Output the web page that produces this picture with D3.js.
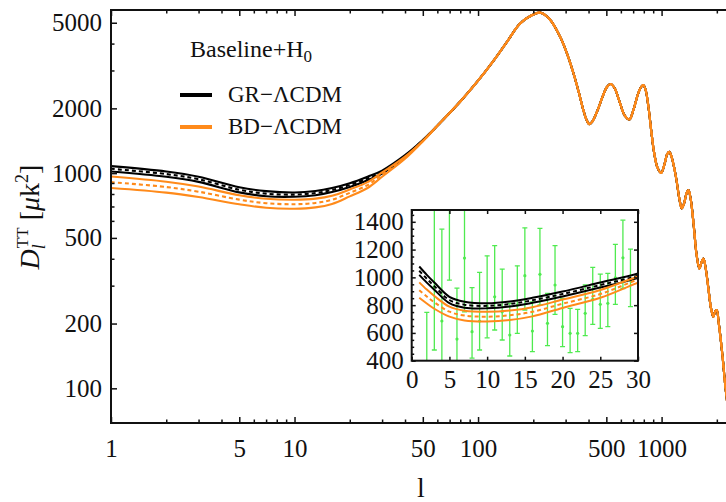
<!DOCTYPE html>
<html>
<head>
<meta charset="utf-8">
<script src="https://cdn.jsdelivr.net/npm/d3@7/dist/d3.min.js"></script>
<style>
body { margin: 0; background: #fff; }
svg text { font-family: "Liberation Serif", "Times New Roman", serif; fill: #111; }
</style>
</head>
<body>
<script>
// low multipoles, three lines per model (upper / mean / lower)
var lowL  = [1, 2, 3, 5, 7, 10, 13, 16, 20, 25, 30, 40, 50];
var grMid = [1048, 990, 937, 837, 803, 795, 808, 835, 880, 945, 1012, 1202, 1421];
var grHi  = [1078, 1018, 963, 860, 825, 813, 826, 853, 898, 963, 1028, 1212, 1425];
var grLo  = [1018, 962, 911, 814, 781, 777, 790, 817, 862, 927, 996, 1192, 1417];
var bdMid = [908, 862, 820, 753, 725, 717, 727, 752, 810, 880, 985, 1180, 1410];
var bdHi  = [964, 912, 866, 789, 760, 752, 761, 785, 840, 909, 1007, 1194, 1416];
var bdLo  = [853, 812, 774, 717, 690, 683, 693, 719, 780, 853, 962, 1166, 1404];

// acoustic peaks, both models on top of each other
var hiL = [60, 80, 100, 121, 145, 169, 195, 218, 245, 280, 305, 331, 355, 375, 390, 404, 420, 450, 480, 505,
           528, 555, 590, 630, 668, 700, 740, 770, 795, 820, 850, 880, 910, 950, 994, 1040, 1070, 1102, 1140, 1200,
           1250, 1288, 1330, 1370, 1400, 1440, 1500, 1550, 1607, 1650, 1690, 1740, 1800, 1860, 1915, 1960, 1997, 2050, 2150, 2218,
           2300, 2400];
var hiD = [1660, 2152, 2690, 3317, 4122, 4952, 5400, 5570, 5200, 4300, 3600, 2910, 2350, 1960, 1770, 1690, 1740, 1980, 2300, 2520,
           2594, 2480, 2150, 1850, 1777, 1950, 2300, 2500, 2567, 2420, 2000, 1550, 1250, 1060, 1003, 1110, 1220, 1256, 1170, 950,
           760, 685, 730, 810, 834, 760, 560, 420, 360, 385, 401, 360, 290, 235, 215, 228, 231, 200, 140, 105,
           80, 60];

// data points in the inset
var errL  = [2, 3, 4, 5, 6, 7, 8, 9, 10, 11, 12, 13, 14, 15, 16, 17, 18, 19, 20, 21, 22, 23, 24, 25, 26, 27, 28, 29];
var errD  = [226, 932, 686, 1500, 556, 1139, 609, 686, 793, 860, 752, 585, 800, 1012, 614, 1022, 669, 945, 645, 597, 597, 741, 842, 806, 813, 997, 1141, 980];
var errUp = [748, 1900, 1347, 2300, 923, 1600, 926, 1036, 1155, 1228, 1060, 813, 1083, 1357, 824, 1352, 885, 1228, 849, 777, 770, 945, 1072, 1024, 1029, 1237, 1412, 1204];
var errDn = [50, 477, 300, 980, 300, 752, 419, 477, 565, 621, 549, 434, 597, 765, 465, 801, 508, 734, 501, 458, 465, 580, 662, 633, 645, 806, 920, 789];

var xMajor = [1, 5, 10, 50, 100, 500, 1000];
var xMinor = [2, 3, 4, 6, 7, 8, 9, 20, 30, 40, 60, 70, 80, 90, 200, 300, 400, 600, 700, 800, 900, 2000];
var yMajor = [100, 200, 500, 1000, 2000, 5000];
var yMinor = [300, 400, 600, 700, 800, 900, 3000, 4000];
var inXTicks = [0, 5, 10, 15, 20, 25, 30];
var inYTicks = [400, 600, 800, 1000, 1200, 1400];
var inYMinor = d3.range(450, 1500, 50).filter(function(v){ return v % 200 !== 0; });

var black = "#000", orange = "#ff8a1a", green = "#4fea4f";

var svg = d3.select("body").append("svg").attr("width", 726).attr("height", 502);

var x = d3.scaleLog().domain([1, 2512]).range([111, 735]);
var y = d3.scaleLog().domain([69, 5730]).range([423, 10]);

var defs = svg.append("defs");
defs.append("clipPath").attr("id", "mainClip").append("rect")
    .attr("x", 111).attr("y", 10).attr("width", 624).attr("height", 413);

function join(low){
    var pts = lowL.map(function(l, i){ return [l, low[i]]; });
    return pts.concat(hiL.map(function(l, i){ return [l, hiD[i]]; }));
}

var series = [
    {v: grHi, c: black, dash: null}, {v: grLo, c: black, dash: null}, {v: grMid, c: black, dash: "4,3"},
    {v: bdHi, c: orange, dash: null}, {v: bdLo, c: orange, dash: null}, {v: bdMid, c: orange, dash: "4,3"}
];

var mainLine = d3.line()
    .x(function(d){ return x(d[0]); })
    .y(function(d){ return y(d[1]); })
    .curve(d3.curveCatmullRom.alpha(0.5));

var gMain = svg.append("g").attr("clip-path", "url(#mainClip)");
series.forEach(function(s){
    gMain.append("path")
        .attr("d", mainLine(join(s.v)))
        .attr("fill", "none")
        .attr("stroke", s.c)
        .attr("stroke-width", 2.1)
        .attr("stroke-dasharray", s.dash);
});

// frame and ticks
svg.append("rect").attr("x", 111).attr("y", 10).attr("width", 624).attr("height", 413)
    .attr("fill", "none").attr("stroke", "#111").attr("stroke-width", 2);

function tickStyle(g){
    g.select(".domain").remove();
    g.selectAll(".tick line").attr("stroke", "#111").attr("stroke-width", 1.5);
    g.selectAll(".tick text").attr("font-size", 25).attr("fill", "#111")
        .attr("font-family", "Liberation Serif, serif");
}

svg.append("g").attr("transform", "translate(0,423)")
    .call(d3.axisBottom(x).tickValues(xMinor).tickSize(-3.5).tickFormat(""))
    .call(tickStyle);
svg.append("g").attr("transform", "translate(0,423)")
    .call(d3.axisBottom(x).tickValues(xMajor).tickSize(-6).tickPadding(16).tickFormat(d3.format("d")))
    .call(tickStyle);
svg.append("g").attr("transform", "translate(0,10)")
    .call(d3.axisTop(x).tickValues(xMinor).tickSize(-3.5).tickFormat(""))
    .call(tickStyle);
svg.append("g").attr("transform", "translate(0,10)")
    .call(d3.axisTop(x).tickValues(xMajor).tickSize(-6).tickFormat(""))
    .call(tickStyle);
svg.append("g").attr("transform", "translate(111,0)")
    .call(d3.axisLeft(y).tickValues(yMinor).tickSize(-3.5).tickFormat(""))
    .call(tickStyle);
svg.append("g").attr("transform", "translate(111,0)")
    .call(d3.axisLeft(y).tickValues(yMajor).tickSize(-6).tickPadding(9).tickFormat(d3.format("d")))
    .call(tickStyle);

// axis titles
svg.append("text").attr("x", 421).attr("y", 497).attr("text-anchor", "middle")
    .attr("font-size", 28).text("l");

var yt = svg.append("text")
    .attr("transform", "translate(39,217) rotate(-90)")
    .attr("text-anchor", "middle")
    .attr("font-size", 28);
yt.append("tspan").attr("font-style", "italic").text("D");
yt.append("tspan").attr("font-style", "italic").attr("font-size", 18).attr("dy", 6).text("l");
yt.append("tspan").attr("font-size", 17).attr("dx", -4).attr("dy", -17).text("TT");
yt.append("tspan").attr("dy", 11).text("\u00a0[");
yt.append("tspan").attr("font-style", "italic").text("\u03bc");
yt.append("tspan").text("k");
yt.append("tspan").attr("font-size", 18).attr("dy", -11).text("2");
yt.append("tspan").attr("dy", 11).text("]");

// legend
var lg = svg.append("text").attr("x", 190).attr("y", 57).attr("font-size", 24);
lg.append("tspan").text("Baseline+H");
lg.append("tspan").attr("font-size", 17).attr("dy", 5).text("0");

[{t: "GR\u2212\u039bCDM", c: black, y: 95}, {t: "BD\u2212\u039bCDM", c: orange, y: 127}].forEach(function(d){
    svg.append("line").attr("x1", 180).attr("x2", 212).attr("y1", d.y).attr("y2", d.y)
        .attr("stroke", d.c).attr("stroke-width", 4);
    svg.append("text").attr("x", 228).attr("y", d.y + 7).attr("font-size", 23).text(d.t);
});

// inset
var ix = d3.scaleLinear().domain([0, 30]).range([411.7, 638]);
var iy = d3.scaleLinear().domain([400, 1485]).range([360.7, 210]);

defs.append("clipPath").attr("id", "inClip").append("rect")
    .attr("x", 411.7).attr("y", 210).attr("width", 226.3).attr("height", 150.7);

svg.append("rect").attr("x", 411.7).attr("y", 210).attr("width", 226.3).attr("height", 150.7)
    .attr("fill", "#fff");

var gIn = svg.append("g").attr("clip-path", "url(#inClip)");

var bars = gIn.selectAll(".err").data(errL).enter().append("g");
bars.append("line")
    .attr("x1", function(l){ return ix(l); }).attr("x2", function(l){ return ix(l); })
    .attr("y1", function(l, i){ return iy(errUp[i]); }).attr("y2", function(l, i){ return iy(errDn[i]); })
    .attr("stroke", green).attr("stroke-width", 1.3);
bars.append("line")
    .attr("x1", function(l){ return ix(l) - 2.5; }).attr("x2", function(l){ return ix(l) + 2.5; })
    .attr("y1", function(l, i){ return iy(errUp[i]); }).attr("y2", function(l, i){ return iy(errUp[i]); })
    .attr("stroke", green).attr("stroke-width", 1.3);
bars.append("line")
    .attr("x1", function(l){ return ix(l) - 2.5; }).attr("x2", function(l){ return ix(l) + 2.5; })
    .attr("y1", function(l, i){ return iy(errDn[i]); }).attr("y2", function(l, i){ return iy(errDn[i]); })
    .attr("stroke", green).attr("stroke-width", 1.3);
bars.append("circle")
    .attr("cx", function(l){ return ix(l); })
    .attr("cy", function(l, i){ return iy(errD[i]); })
    .attr("r", 1.6).attr("fill", green);

var inLine = d3.line()
    .x(function(d){ return ix(d[0]); })
    .y(function(d){ return iy(d[1]); })
    .curve(d3.curveCatmullRom.alpha(0.5));

series.forEach(function(s){
    gIn.append("path")
        .attr("d", inLine(lowL.map(function(l, i){ return [l, s.v[i]]; })))
        .attr("fill", "none")
        .attr("stroke", s.c)
        .attr("stroke-width", 2)
        .attr("stroke-dasharray", s.dash);
});

svg.append("rect").attr("x", 411.7).attr("y", 210).attr("width", 226.3).attr("height", 150.7)
    .attr("fill", "none").attr("stroke", "#111").attr("stroke-width", 2);

svg.append("g").attr("transform", "translate(0,360.7)")
    .call(d3.axisBottom(ix).tickValues(inXTicks).tickSize(-4).tickPadding(10).tickFormat(d3.format("d")))
    .call(tickStyle);
svg.append("g").attr("transform", "translate(0,210)")
    .call(d3.axisTop(ix).tickValues(inXTicks).tickSize(-4).tickFormat(""))
    .call(tickStyle);
svg.append("g").attr("transform", "translate(411.7,0)")
    .call(d3.axisLeft(iy).tickValues(inYMinor).tickSize(-2.5).tickFormat(""))
    .call(tickStyle);
svg.append("g").attr("transform", "translate(411.7,0)")
    .call(d3.axisLeft(iy).tickValues(inYTicks).tickSize(-4).tickPadding(8).tickFormat(d3.format("d")))
    .call(tickStyle);
svg.append("g").attr("transform", "translate(638,0)")
    .call(d3.axisRight(iy).tickValues(inYTicks).tickSize(-4).tickFormat(""))
    .call(tickStyle);
</script>
</body>
</html>
